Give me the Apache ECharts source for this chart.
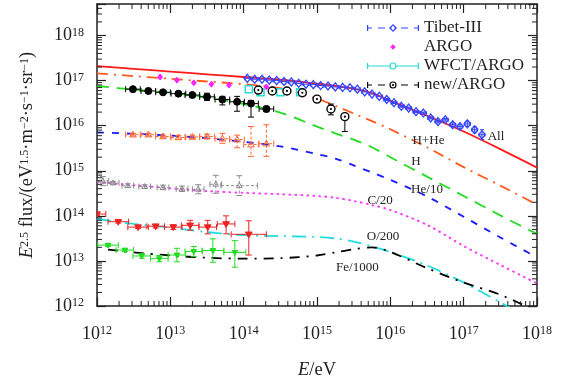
<!DOCTYPE html>
<html><head><meta charset="utf-8">
<script src="https://cdn.jsdelivr.net/npm/echarts@6/dist/echarts.min.js"></script>
<style>html,body{margin:0;padding:0;background:#fff}#c{width:562px;height:385px}</style>
</head><body><div id="c"></div>
<script>
// ===== DATA (log10 of E in eV, log10 of E^2.5 flux) =====
// model curves
const modelLogE = [12,12.5,13,13.5,14,14.5,15,15.25,15.5,15.75,16,16.5,17,17.5,18];
const allLogF   = [17.32,17.26,17.20,17.14,17.08,17.02,16.93,16.88,16.82,16.72,16.55,16.22,15.87,15.48,15.07];
const hheLogF   = [17.16,17.10,17.04,16.98,16.92,16.83,16.60,16.44,16.27,16.10,15.92,15.52,15.08,14.67,14.25];
const hLogF     = [16.88,16.80,16.73,16.63,16.48,16.29,15.98,15.83,15.69,15.52,15.30,14.87,14.44,14.01,13.60];
const heLogF    = [15.85,15.82,15.78,15.72,15.64,15.54,15.37,15.27,15.12,14.96,14.80,14.43,13.98,13.52,13.08];
const cLogF     = [14.75,14.68,14.61,14.55,14.51,14.48,14.44,14.40,14.33,14.24,14.13,13.80,13.33,12.91,12.50];
const oLogF     = [13.93,13.82,13.74,13.64,13.57,13.55,13.53,13.50,13.43,13.32,13.20,12.90,12.52,12.08,11.62];
const feModelLogE = [12.15,12.5,13,13.5,14,14.5,15,15.25,15.5,15.75,16,16.5,17,17.5,18];
const feLogF    = [13.25,13.19,13.12,13.07,13.05,13.06,13.12,13.19,13.26,13.30,13.20,12.84,12.52,12.25,11.88];

// Tibet-III all-particle
const tibetLogE = [14.05,14.15,14.25,14.35,14.45,14.55,14.65,14.75,14.85,14.95,15.05,15.15,15.25,15.35,15.45,15.55,15.65,15.75,15.85,15.95,16.05,16.15,16.25,16.35,16.45,16.55,16.65,16.75,16.85,16.95,17.05,17.15,17.25];
const tibetLogF = [17.05,17.03,17.03,17.01,17.00,16.98,16.97,16.94,16.92,16.91,16.89,16.88,16.86,16.85,16.84,16.81,16.75,16.70,16.65,16.58,16.51,16.43,16.39,16.31,16.28,16.17,16.09,16.13,16.02,15.98,16.04,15.91,15.80];
const tibetErr  = [0.01,0.01,0.01,0.01,0.01,0.01,0.01,0.01,0.01,0.01,0.01,0.01,0.01,0.01,0.01,0.01,0.01,0.01,0.01,0.02,0.02,0.02,0.02,0.02,0.02,0.02,0.03,0.03,0.04,0.04,0.06,0.07,0.11];
// ARGO (H+He)
const argoLogE = [12.86,13.09,13.32,13.56,13.80,14.31];
const argoLogF = [17.08,17.01,16.95,16.92,16.90,16.86];
// WFCT/ARGO
const wfctLogE = [14.07,14.23,14.50,14.77];
const wfctLogF = [16.81,16.74,16.74,16.74];
// new/ARGO
const newLogE  = [14.20,14.39,14.59,14.80,15.00,15.19,15.38];
const newLogF  = [16.79,16.77,16.77,16.73,16.59,16.37,16.20];
const newErrLo = [0.02,0.02,0.02,0.03,0.04,0.13,0.33];
const newErrHi = [0.02,0.02,0.02,0.03,0.04,0.11,0.04];
// H data (black filled circles)
const hDataLogE = [12.49,12.70,12.90,13.11,13.30,13.50,13.71,13.91,14.10,14.31];
const hDataLogF = [16.81,16.77,16.74,16.71,16.68,16.64,16.58,16.53,16.49,16.37];
const hDataErrLo = [0.02,0.02,0.03,0.03,0.04,0.08,0.12,0.21,0.30,0.06];
const hDataErrHi = [0.02,0.02,0.03,0.03,0.04,0.08,0.07,0.12,0.07,0.06];
const hDataErrX = [0.1,0.1,0.1,0.1,0.1,0.1,0.1,0.1,0.1,0.1];
// He/10 data (orange triangles)
const heDataLogF = [15.80,15.80,15.76,15.74,15.75,15.76,15.71,15.69,15.58,15.60];
const heDataErrLo = [0.03,0.03,0.03,0.04,0.04,0.05,0.10,0.18,0.26,0.28];
const heDataErrHi = [0.03,0.03,0.03,0.04,0.04,0.05,0.12,0.10,0.40,0.42];
// C/20 data (grey triangles)
const cDataLogE = [12.08,12.22,12.42,12.65,12.90,13.16,13.38,13.62,13.94];
const cDataLogF = [14.77,14.73,14.67,14.65,14.63,14.60,14.59,14.70,14.67];
const cDataErr  = [0.10,0.03,0.04,0.04,0.05,0.06,0.10,0.20,0.22];
const cDataErrX = [0.08,0.08,0.08,0.08,0.08,0.08,0.08,0.08,0.25];
// O/200 data (red down triangles)
const oDataLogE = [12.00,12.29,12.56,12.80,13.04,13.27,13.51,13.76,14.07];
const oDataLogF = [14.04,13.87,13.75,13.77,13.75,13.79,13.75,13.82,13.59];
const oDataErrLo = [0.03,0.03,0.03,0.04,0.05,0.11,0.15,0.22,0.46];
const oDataErrHi = [0.03,0.03,0.03,0.04,0.05,0.11,0.15,0.18,0.30];
const oDataErrX  = [0.12,0.14,0.14,0.12,0.12,0.12,0.12,0.12,0.24];
// Fe/1000 data (green down triangles)
const feDataLogE = [12.15,12.38,12.61,12.85,13.09,13.32,13.58,13.88];
const feDataLogF = [13.35,13.24,13.11,13.05,13.13,13.21,13.23,13.19];
const feDataErrLo = [0.03,0.03,0.05,0.07,0.15,0.11,0.26,0.33];
const feDataErrHi = [0.03,0.03,0.05,0.07,0.15,0.11,0.26,0.26];
const feDataErrX  = [0.14,0.12,0.12,0.12,0.12,0.12,0.15,0.15];

// tick decades
const xDecades = [12,13,14,15,16,17,18];
const yDecades = [12,13,14,15,16,17,18];

// ===== helpers =====
const P = v => Math.pow(10, v);
const SERIF = 'Liberation Serif, Times New Roman, serif';
const pick = (a, i) => Array.isArray(a) ? a[i] : a;
function curve(logE, logF) { return logE.map((e, i) => [P(e), P(logF[i])]); }
function errData(logE, logF, xe, lo, hi) {
  return logE.map((e, i) => {
    const f = logF[i];
    return [P(e), P(f), P(e - pick(xe, i)), P(e + pick(xe, i)), P(f - pick(lo, i)), P(f + pick(hi, i))];
  });
}
function marker(st, c) {
  const x = c[0], y = c[1], r = st.size / 2;
  const stroke = st.color, fill = st.hollow ? null : st.color, lw = st.lw || 1;
  const sty = { fill: fill, stroke: stroke, lineWidth: lw };
  switch (st.shape) {
    case 'circle': return { type: 'circle', shape: { cx: x, cy: y, r: r }, style: sty };
    case 'dotCircle': return { type: 'group', children: [
      { type: 'circle', shape: { cx: x, cy: y, r: r }, style: { fill: '#fff', stroke: stroke, lineWidth: lw } },
      { type: 'circle', shape: { cx: x, cy: y, r: 1.1 }, style: { fill: stroke } }] };
    case 'triUp': return { type: 'polygon', shape: { points: [[x, y - r], [x + r * 0.95, y + r * 0.65], [x - r * 0.95, y + r * 0.65]] }, style: sty };
    case 'triDown': return { type: 'polygon', shape: { points: [[x, y + r], [x + r * 0.95, y - r * 0.65], [x - r * 0.95, y - r * 0.65]] }, style: sty };
    case 'diamond': return { type: 'polygon', shape: { points: [[x, y - r], [x + r * 0.8, y], [x, y + r], [x - r * 0.8, y]] }, style: sty };
    case 'square': return { type: 'rect', shape: { x: x - r, y: y - r, width: 2 * r, height: 2 * r }, style: sty };
  }
}
function makeRender(st) {
  return function (params, api) {
    const E = api.value(0), F = api.value(1);
    const c = api.coord([E, F]);
    const xl = api.coord([api.value(2), F])[0], xh = api.coord([api.value(3), F])[0];
    const yl = api.coord([E, api.value(4)])[1], yh = api.coord([E, api.value(5)])[1];
    const ls = { stroke: st.barColor || st.color, lineWidth: st.barWidth || 1, lineDash: st.dash || null, fill: null };
    const ls2 = { stroke: st.barColor || st.color, lineWidth: st.barWidth || 1, fill: null };
    const cap = st.cap == null ? 3 : st.cap;
    const ch = [];
    if (xh - xl > 1) {
      ch.push({ type: 'line', shape: { x1: xl, y1: c[1], x2: xh, y2: c[1] }, style: ls });
      if (cap) {
        ch.push({ type: 'line', shape: { x1: xl, y1: c[1] - cap, x2: xl, y2: c[1] + cap }, style: ls2 });
        ch.push({ type: 'line', shape: { x1: xh, y1: c[1] - cap, x2: xh, y2: c[1] + cap }, style: ls2 });
      }
    }
    if (yl - yh > 1.5) {
      ch.push({ type: 'line', shape: { x1: c[0], y1: yh, x2: c[0], y2: yl }, style: ls });
      if (cap) {
        ch.push({ type: 'line', shape: { x1: c[0] - cap, y1: yh, x2: c[0] + cap, y2: yh }, style: ls2 });
        ch.push({ type: 'line', shape: { x1: c[0] - cap, y1: yl, x2: c[0] + cap, y2: yl }, style: ls2 });
      }
    }
    if (st.shape) ch.push(marker(st, c));
    return { type: 'group', children: ch };
  };
}
function errSeries(name, data, st) {
  return { type: 'custom', name: name, data: data, renderItem: makeRender(st), clip: true, silent: true, z: 5,
    itemStyle: { color: st.color }, encode: { x: [0, 2, 3], y: [1, 4, 5] } };
}
function lineSeries(name, data, color, type, label, coord) {
  return { type: 'line', name: name, data: data, showSymbol: false, symbol: 'none', smooth: 0.3, clip: true, silent: true, z: 3,
    lineStyle: { color: color, width: 1.8, type: type }, itemStyle: { color: color },
    markPoint: { symbol: 'circle', symbolSize: 1, silent: true, itemStyle: { color: 'transparent' },
      label: { show: true, position: 'inside', formatter: label, color: '#222', fontFamily: SERIF, fontSize: 13 },
      data: [{ coord: coord, value: 0 }] } };
}
function tickLabel(v) {
  const l = Math.log10(v);
  if (Math.abs(l - Math.round(l)) > 1e-6) return '';
  return '{b|10}{s|' + Math.round(l) + '}';
}
const richTick = {
  b: { fontFamily: SERIF, fontSize: 18, lineHeight: 18, verticalAlign: 'bottom', color: '#222' },
  s: { fontFamily: SERIF, fontSize: 12, lineHeight: 12, padding: [0, 0, 10, 0], verticalAlign: 'top', color: '#222' }
};
const richName = {
  i: { fontFamily: SERIF, fontSize: 18.5, fontStyle: 'italic', lineHeight: 18, verticalAlign: 'bottom', color: '#222' },
  n: { fontFamily: SERIF, fontSize: 18.5, lineHeight: 18, verticalAlign: 'bottom', color: '#222' },
  s: { fontFamily: SERIF, fontSize: 12, lineHeight: 12, padding: [0, 0, 10, 0], verticalAlign: 'top', color: '#222' }
};
// minor tick positions (2..9 x 10^n)
const minorX = [], minorY = [];
xDecades.slice(0, -1).forEach(n => { for (let k = 2; k <= 9; k++) minorX.push(k * P(n)); });
yDecades.forEach(n => { for (let k = 2; k <= (n === 18 ? 4 : 9); k++) minorY.push(k * P(n)); });

const AX = '#222';
function xAx(pos, labels) {
  return { type: 'log', logBase: 10, min: P(xDecades[0]), max: P(xDecades[xDecades.length - 1]), position: pos,
    axisLine: { lineStyle: { color: AX, width: 1.5 } }, axisTick: { inside: true, length: 9, lineStyle: { color: AX, width: 1.2 } },
    splitLine: { show: false }, minorTick: { show: false },
    axisLabel: labels ? { margin: 19, formatter: tickLabel, rich: richTick, hideOverlap: false } : { show: false },
    name: labels ? '{i|E}{n|/eV}' : '', nameLocation: 'middle', nameGap: 56, nameTextStyle: { rich: richName } };
}
function yAx(pos, labels) {
  return { type: 'log', logBase: 10, min: P(yDecades[0]), max: 5e18, position: pos,
    axisLine: { lineStyle: { color: AX, width: 1.5 } }, axisTick: { inside: true, length: 9, lineStyle: { color: AX, width: 1.2 } },
    splitLine: { show: false }, minorTick: { show: false },
    axisLabel: labels ? { margin: 13, formatter: tickLabel, rich: richTick, hideOverlap: false } : { show: false },
    name: labels ? '{i|E}{s|2.5}{n| flux/(eV}{s|1.5}{n|·m}{s|−2}{n|·s}{s|−1}{n|·sr}{s|−1}{n|)}' : '',
    nameLocation: 'middle', nameRotate: 90, nameGap: 60, nameTextStyle: { rich: richName } };
}
const tickStyle = { stroke: AX, lineWidth: 1 };
const minorXSeries = { type: 'custom', silent: true, clip: false, z: 10, data: minorX.map(v => [v, 1e15]),
  renderItem: (params, api) => {
    const cs = params.coordSys, x = api.coord([api.value(0), 1e15])[0];
    return { type: 'group', children: [
      { type: 'line', shape: { x1: x, y1: cs.y + cs.height, x2: x, y2: cs.y + cs.height - 5 }, style: tickStyle },
      { type: 'line', shape: { x1: x, y1: cs.y, x2: x, y2: cs.y + 5 }, style: tickStyle }] };
  } };
const minorYSeries = { type: 'custom', silent: true, clip: false, z: 10, data: minorY.map(v => [1e15, v]),
  renderItem: (params, api) => {
    const cs = params.coordSys, y = api.coord([1e15, api.value(1)])[1];
    return { type: 'group', children: [
      { type: 'line', shape: { x1: cs.x, y1: y, x2: cs.x + 5, y2: y }, style: tickStyle },
      { type: 'line', shape: { x1: cs.x + cs.width, y1: y, x2: cs.x + cs.width - 5, y2: y }, style: tickStyle }] };
  } };

// legend icons (52 x 10 box)
const ANCH = 'M0 0L0.01 0L0 0.01Z M52 10L51.99 10L52 9.99Z ';
const CAPS = 'M0 2L1.2 2L1.2 8L0 8Z M50.8 2L52 2L52 8L50.8 8Z ';
const seg = (a, b) => 'M' + a + ' 4.4L' + b + ' 4.4L' + b + ' 5.6L' + a + ' 5.6Z ';
const ring = 'M29.6 5A3.6 3.6 0 1 1 22.4 5A3.6 3.6 0 1 1 29.6 5Z M28.4 5A2.4 2.4 0 1 0 23.6 5A2.4 2.4 0 1 0 28.4 5Z ';
const iconTibet = 'path://' + ANCH + CAPS + seg(0, 5) + seg(11, 18) + 'M26 1L30 5L26 9L22 5Z M26 2.6L24.1 5L26 7.4L27.9 5Z ' + seg(34, 41) + seg(47, 52);
const iconArgo = 'path://' + ANCH + 'M26 2.2L28.8 5L26 7.8L23.2 5Z';
const iconWfct = 'path://' + ANCH + CAPS + seg(0, 22.5) + ring + seg(29.5, 52);
const iconNew = 'path://' + ANCH + CAPS + seg(0, 5) + seg(11, 18) + ring + 'M27.1 5A1.1 1.1 0 1 1 24.9 5A1.1 1.1 0 1 1 27.1 5Z ' + seg(34, 41) + seg(47, 52);

const chart = echarts.init(document.getElementById('c'), null, { renderer: 'canvas' });
chart.setOption({
  animation: false,
  backgroundColor: '#fff',
  grid: { left: 97, right: 25, top: 4, bottom: 77 },
  xAxis: [xAx('bottom', true), xAx('top', false)],
  yAxis: [yAx('left', true), yAx('right', false)],
  legend: { orient: 'vertical', left: 362, top: 14, itemWidth: 52, itemHeight: 10, itemGap: 1, selectedMode: false,
    itemStyle: { borderWidth: 0 }, textStyle: { fontFamily: SERIF, fontSize: 17, color: '#222', lineHeight: 18 },
    data: [{ name: 'Tibet-III', icon: iconTibet }, { name: 'ARGO', icon: iconArgo }, { name: 'WFCT/ARGO', icon: iconWfct }, { name: 'new/ARGO', icon: iconNew }] },
  series: [
    lineSeries('All', curve(modelLogE, allLogF), '#ff1a1a', 'solid', 'All', [P(17.44), P(15.76)]),
    lineSeries('H+He', curve(modelLogE, hheLogF), '#ff5a1e', [11, 6, 2, 6], 'H+He', [P(16.52), P(15.67)]),
    lineSeries('H', curve(modelLogE, hLogF), '#22dd22', [12, 8], 'H', [P(16.35), P(15.21)]),
    lineSeries('He/10', curve(modelLogE, heLogF), '#1a1aff', [7, 8], 'He/10', [P(16.50), P(14.59)]),
    lineSeries('C/20', curve(modelLogE, cLogF), '#ff33ff', [2.5, 3.5], 'C/20', [P(15.86), P(14.33)]),
    lineSeries('O/200', curve(modelLogE, oLogF), '#22dddd', [14, 6, 2, 6], 'O/200', [P(15.90), P(13.54)]),
    lineSeries('Fe/1000', curve(feModelLogE, feLogF), '#000000', [10, 7, 2, 7], 'Fe/1000', [P(15.55), P(12.86)]),
    errSeries('C/20 data', errData(cDataLogE, cDataLogF, cDataErrX, cDataErr, cDataErr), { color: '#8c8c8c', shape: 'triUp', size: 6, hollow: true, dash: [3, 2] }),
    errSeries('He/10 data', errData(hDataLogE, heDataLogF, hDataErrX, heDataErrLo, heDataErrHi), { color: '#ff6633', shape: 'triUp', size: 7, hollow: true, dash: [3, 2] }),
    errSeries('O/200 data', errData(oDataLogE, oDataLogF, oDataErrX, oDataErrLo, oDataErrHi), { color: '#ee2222', shape: 'triDown', size: 7 }),
    errSeries('Fe/1000 data', errData(feDataLogE, feDataLogF, feDataErrX, feDataErrLo, feDataErrHi), { color: '#22dd22', shape: 'triDown', size: 6 }),
    errSeries('H data', errData(hDataLogE, hDataLogF, hDataErrX, hDataErrLo, hDataErrHi), { color: '#000000', shape: 'circle', size: 7 }),
    errSeries('ARGO', errData(argoLogE, argoLogF, 0, 0, 0), { color: '#ff22ff', shape: 'diamond', size: 6 }),
    errSeries('WFCT/ARGO', errData(wfctLogE, wfctLogF, 0, 0, 0), { color: '#22dddd', shape: 'square', size: 7, hollow: true, lw: 1.5 }),
    errSeries('new/ARGO', errData(newLogE, newLogF, 0, newErrLo, newErrHi), { color: '#000000', shape: 'dotCircle', size: 8, lw: 1.4 }),
    errSeries('Tibet-III', errData(tibetLogE, tibetLogF, 0.04, tibetErr, tibetErr), { color: '#3344ff', shape: 'diamond', size: 8, hollow: true, lw: 1.3, cap: 2 }),
    minorXSeries, minorYSeries
  ]
});
</script></body></html>
